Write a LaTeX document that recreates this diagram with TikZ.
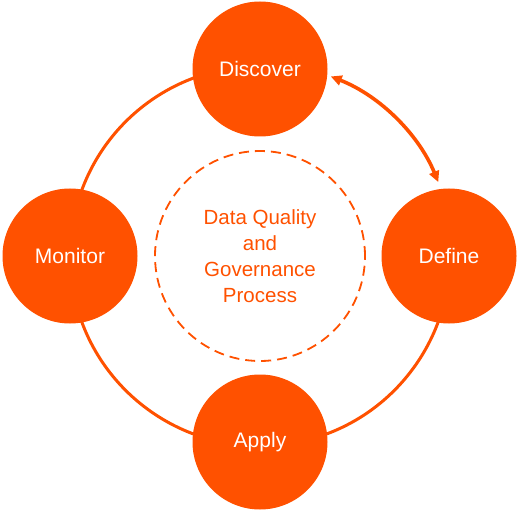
\documentclass[tikz,border=0pt]{standalone}
\usepackage{fontspec}
\setmainfont{Liberation Sans}
\usetikzlibrary{arrows.meta}
\definecolor{org}{HTML}{FF5100}
\begin{document}
\begin{tikzpicture}[x=1pt,y=-1pt,
  stage/.style={circle,fill=org,minimum size=135pt,inner sep=0pt,text=white,font=\fontsize{21}{25}\selectfont},
  ring/.style={draw=org,line width=3pt},
  dbl/.style={draw=org,line width=3.6pt,{Triangle[length=11pt,width=10pt]}-{Triangle[length=11pt,width=10pt]}}]
\useasboundingbox (0,0) rectangle (519,513);
\coordinate (c) at (260,256);
\draw[ring] (c) ++(-10:190) arc[start angle=-10,end angle=285,radius=190];
\draw[dbl] (c) ++(-68.5:193) arc[start angle=-68.5,end angle=-22.5,radius=193];
\node[circle,draw=org,dashed,line width=1.8pt,minimum size=210pt,dash pattern=on 10pt off 6pt] (inner) at (c) {};
\node[text=org,align=center,font=\fontsize{20.5}{26}\selectfont] (lbl) at (260,256) {Data Quality\\and\\Governance\\Process};
\node[stage] (disc) at (260,69) {Discover};
\node[stage] (def) at (449,256) {Define};
\node[stage] (app) at (260,442) {Apply};
\node[stage] (mon) at (70,256) {Monitor};
\end{tikzpicture}
\end{document}
